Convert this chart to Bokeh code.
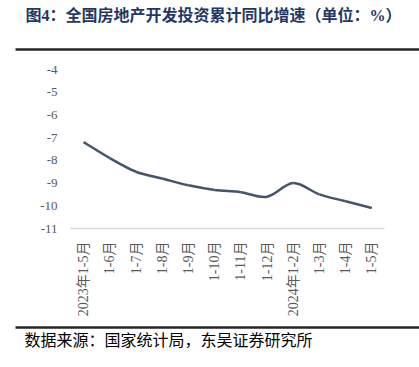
import math
from bokeh.plotting import figure
from bokeh.models import LinearAxis, FixedTicker, ColumnDataSource, Title
from bokeh.embed import file_html
from bokeh.resources import INLINE

categories = ["2023年1-5月", "1-6月", "1-7月", "1-8月", "1-9月", "1-10月",
              "1-11月", "1-12月", "2024年1-2月", "1-3月", "1-4月", "1-5月"]
values = [-7.2, -7.9, -8.5, -8.8, -9.1, -9.3, -9.4, -9.6, -9.0, -9.5, -9.8, -10.1]
y_ticks = [-11, -10, -9, -8, -7, -6, -5, -4]

title_text = "图4：全国房地产开发投资累计同比增速（单位：%）"
source_text = "数据来源：国家统计局，东吴证券研究所"

SERIF = "Liberation Serif, Noto Sans CJK SC"

# frame spans full rule width (x 15..419, y 49..228)
px_per_cat = 26.2
x_start = -0.5 - 55 / px_per_cat
x_end = x_start + 404 / px_per_cat
px_per_unit = 159 / 7
y_end = -11 + 179 / px_per_unit

p = figure(width=419, height=367, output_backend="svg", toolbar_location=None,
           x_range=(x_start, x_end), y_range=(-11, y_end),
           min_border_left=15, min_border_right=0, min_border_top=49, min_border_bottom=139)
p.outline_line_color = None
p.grid.grid_line_color = None
p.background_fill_color = "white"
p.border_fill_color = "white"

# title (outermost in the top panel)
p.title.text = title_text
p.title.align = "left"
p.title.offset = 10
p.title.text_font = SERIF
p.title.text_font_size = "16px"
p.title.text_font_style = "bold"
p.title.text_color = "#1F3864"
p.title.standoff = 0

# category axis
p.xaxis.ticker = FixedTicker(ticks=list(range(len(categories))))
p.xaxis.major_label_overrides = {i: c for i, c in enumerate(categories)}
p.xaxis.bounds = (-0.5, len(categories) - 0.5)
p.xaxis.major_label_orientation = math.pi / 2
p.xaxis.major_tick_line_color = None
p.xaxis.minor_tick_line_color = None
p.xaxis.major_tick_out = 0
p.xaxis.axis_line_color = "#D9D9D9"
p.xaxis.axis_line_width = 1.5
p.xaxis.major_label_text_font = SERIF
p.xaxis.major_label_text_font_size = "14px"
p.xaxis.major_label_text_color = "#595959"
p.xaxis.major_label_standoff = 13
p.xaxis.axis_label = " "
p.xaxis.axis_label_standoff = 0
p.xaxis.axis_label_text_font_size = "4px"

# value axis (labels placed to the right of the frame's left edge)
p.yaxis.ticker = FixedTicker(ticks=y_ticks)
p.yaxis.major_label_overrides = {v: str(v) for v in y_ticks}
p.yaxis.axis_line_color = None
p.yaxis.major_tick_line_color = None
p.yaxis.minor_tick_line_color = None
p.yaxis.major_tick_out = 0
p.yaxis.major_label_text_font = SERIF
p.yaxis.major_label_text_font_size = "13px"
p.yaxis.major_label_text_color = "#595959"
p.yaxis.major_label_standoff = -42


def rule_axis():
    ax = LinearAxis(ticker=FixedTicker(ticks=[]))
    ax.axis_line_color = "#262626"
    ax.axis_line_width = 2.5
    ax.major_tick_line_color = None
    ax.minor_tick_line_color = None
    ax.major_tick_out = 0
    ax.minor_tick_out = 0
    ax.major_label_text_font_size = "0px"
    return ax


p.add_layout(rule_axis(), "above")
# spacer between the top rule and the title
p.add_layout(Title(text=" ", text_font_size="2px", standoff=22), "above")

p.add_layout(rule_axis(), "below")
p.add_layout(Title(text=source_text, align="left", offset=9, text_font=SERIF,
                   text_font_size="16px", text_font_style="normal",
                   text_color="#000000", standoff=5), "below")

# smoothed line through the data (Catmull-Rom -> cubic Bezier)
xs = list(range(len(values)))
n = len(values)
x0, y0, x1, y1, cx0, cy0, cx1, cy1 = [], [], [], [], [], [], [], []
t = 1 / 6
for i in range(n - 1):
    pm = (xs[i - 1], values[i - 1]) if i > 0 else (xs[i], values[i])
    pa = (xs[i], values[i])
    pb = (xs[i + 1], values[i + 1])
    pn = (xs[i + 2], values[i + 2]) if i + 2 < n else (xs[i + 1], values[i + 1])
    x0.append(pa[0]); y0.append(pa[1]); x1.append(pb[0]); y1.append(pb[1])
    cx0.append(pa[0] + (pb[0] - pm[0]) * t); cy0.append(pa[1] + (pb[1] - pm[1]) * t)
    cx1.append(pb[0] - (pn[0] - pa[0]) * t); cy1.append(pb[1] - (pn[1] - pa[1]) * t)
src = ColumnDataSource(dict(x0=x0, y0=y0, x1=x1, y1=y1, cx0=cx0, cy0=cy0, cx1=cx1, cy1=cy1))
p.bezier(x0="x0", y0="y0", x1="x1", y1="y1", cx0="cx0", cy0="cy0", cx1="cx1", cy1="cy1",
         source=src, line_color="#44546A", line_width=2.5)

open("out.html", "w").write(file_html(p, INLINE))
